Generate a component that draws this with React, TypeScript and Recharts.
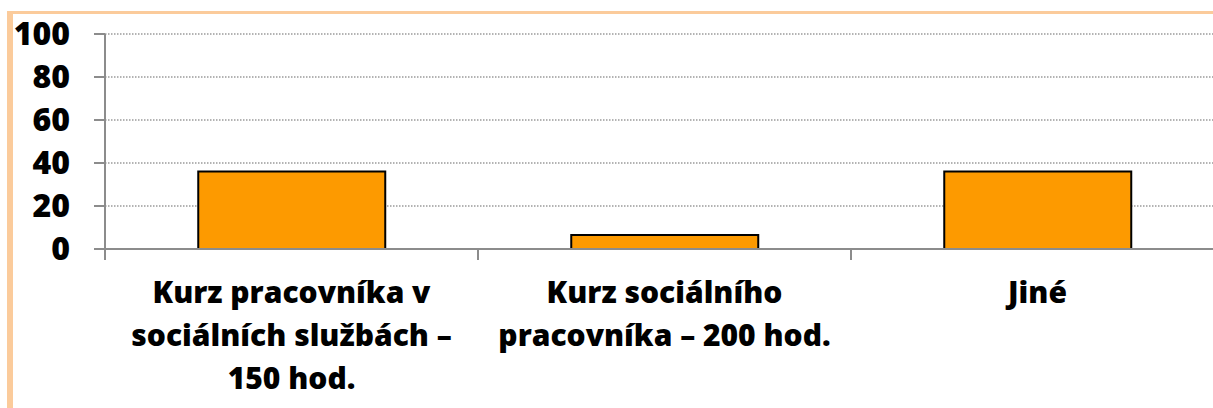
import { BarChart, Bar, XAxis, YAxis, CartesianGrid } from "recharts";

const categories = [
  "Kurz pracovníka v|sociálních službách –|150 hod.",
  "Kurz sociálního|pracovníka – 200 hod.",
  "Jiné",
];
const values = [36, 6.5, 36];
const yTicks = [0, 20, 40, 60, 80, 100];

const CHART_W = 1240;
const CHART_H = 408;
const MARGIN = { top: 34, right: 16, left: 0, bottom: 0 };
const Y_AXIS_W = 105;
const X_AXIS_H = 159;
const PLOT_W = CHART_W - MARGIN.left - MARGIN.right - Y_AXIS_W;
const BAND = PLOT_W / categories.length;

const FONT = "'Open Sans', Lato, sans-serif";
const AXIS_COLOR = "#8c8c8c";

const data = categories.map((name, i) => ({ name, value: values[i] }));

function CategoryTick(props: any) {
  const { x, y, payload, index } = props;
  const lines = String(payload.value).split("|");
  return (
    <g>
      <line x1={x - BAND / 2} y1={y - 8} x2={x - BAND / 2} y2={y + 3} stroke={AXIS_COLOR} strokeWidth={2} />
      {index === categories.length - 1 && (
        <line x1={x + BAND / 2} y1={y - 8} x2={x + BAND / 2} y2={y + 3} stroke={AXIS_COLOR} strokeWidth={2} />
      )}
      <text textAnchor="middle" fontFamily={FONT} fontWeight={800} fontSize={30} fill="#000">
        {lines.map((l, i) => (
          <tspan key={i} x={x} y={y + 46 + i * 43}>
            {l}
          </tspan>
        ))}
      </text>
    </g>
  );
}

export default function App() {
  return (
    <div style={{ position: "absolute", left: 0, top: 0, width: 1213, height: 408, overflow: "hidden", background: "#fff" }}>
      <div
        style={{
          position: "absolute",
          left: 7,
          top: 11,
          width: 1300,
          height: 500,
          borderLeft: "6px solid #fbcb9b",
          borderTop: "3px solid #fbcb9b",
        }}
      />
      <div style={{ position: "absolute", left: 0, top: 0 }}>
        <BarChart width={CHART_W} height={CHART_H} data={data} margin={MARGIN} barCategoryGap="25%">
          <CartesianGrid
            vertical={false}
            stroke="#9a9a9a"
            strokeWidth={1.5}
            strokeDasharray="1.5 1.5"
          />
          <XAxis
            dataKey="name"
            height={X_AXIS_H}
            interval={0}
            axisLine={{ stroke: AXIS_COLOR, strokeWidth: 2 }}
            tickLine={false}
            tick={<CategoryTick />}
          />
          <YAxis
            width={Y_AXIS_W}
            domain={[0, 100]}
            ticks={yTicks}
            interval={0}
            tickSize={11}
            tickMargin={24}
            axisLine={{ stroke: AXIS_COLOR, strokeWidth: 2 }}
            tickLine={{ stroke: AXIS_COLOR, strokeWidth: 2 }}
            tick={{ fontFamily: FONT, fontWeight: 800, fontSize: 32, fill: "#000" }}
          />
          <Bar dataKey="value" fill="#fd9a00" stroke="#000" strokeWidth={2} isAnimationActive={false} />
        </BarChart>
      </div>
    </div>
  );
}
